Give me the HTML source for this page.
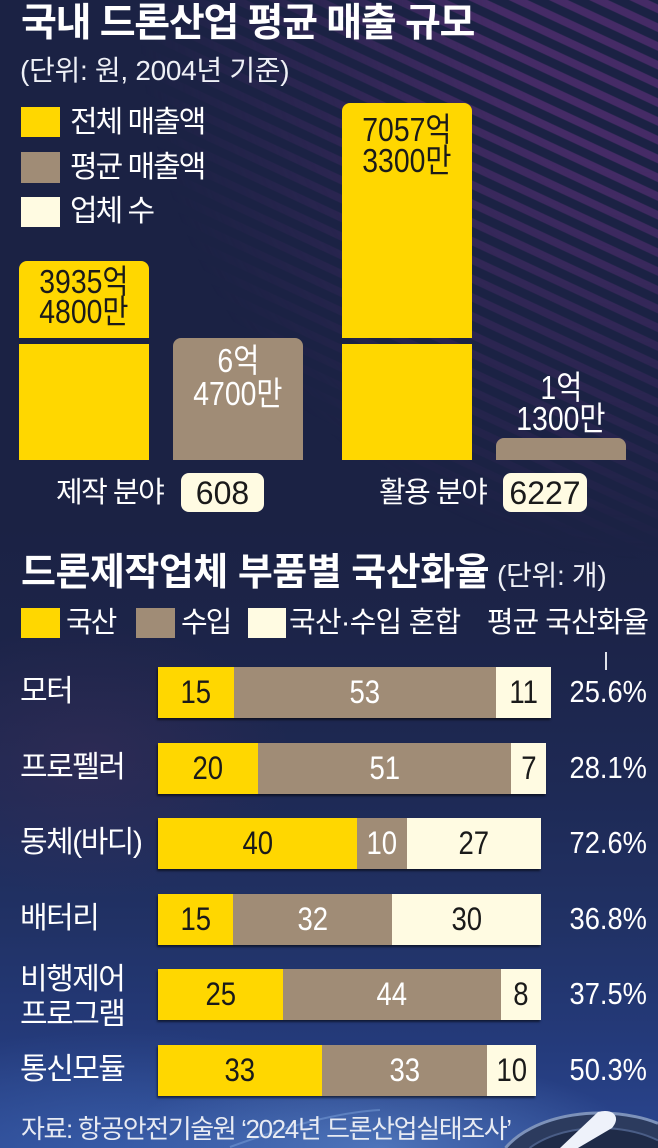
<!DOCTYPE html>
<html><head><meta charset="utf-8">
<style>
*{margin:0;padding:0;box-sizing:border-box}
html,body{width:658px;height:1148px;overflow:hidden;background:#1b2244}
body{font-family:"Liberation Sans","Noto Sans CJK KR",sans-serif;color:#fff}
#wrap{position:relative;width:658px;height:1148px;overflow:hidden}
.bg{position:absolute;left:0;top:0;width:658px;height:1148px;
 background:linear-gradient(to bottom,#1b2244 0px,#1b2244 520px,#1c2449 640px,#1e2a56 800px,#213266 930px,#243a7a 1040px,#2a4690 1148px)}
.glow1{position:absolute;left:0;top:0;width:658px;height:1148px;
 background:radial-gradient(ellipse 260px 90px at 380px 1148px,rgba(120,170,235,.45),rgba(120,170,235,0) 100%),
 radial-gradient(ellipse 200px 140px at 90px 760px,rgba(90,50,90,.25),rgba(90,50,90,0) 100%),
 radial-gradient(ellipse 300px 120px at 120px 1148px,rgba(80,130,210,.35),rgba(80,130,210,0) 100%)}
.stripes{position:absolute;left:0;top:0;width:658px;height:560px;
 background:repeating-linear-gradient(25deg,rgba(72,44,104,0) 0px,rgba(72,44,104,0) 8px,rgba(72,44,104,.95) 9px,rgba(72,44,104,.95) 16px,rgba(72,44,104,0) 17px);
 -webkit-mask-image:radial-gradient(ellipse 520px 560px at 100% 0%,#000 30%,rgba(0,0,0,.5) 60%,transparent 100%);
 mask-image:radial-gradient(ellipse 520px 560px at 100% 0%,#000 30%,rgba(0,0,0,.5) 60%,transparent 100%)}
.a{position:absolute}
.t{position:absolute;height:40px;line-height:40px;white-space:nowrap}
.n{display:inline-block;transform:scaleX(.86);transform-origin:center}
.nr{display:inline-block;transform:scaleX(.88);transform-origin:right center}
.y{background:#ffd700}
.b{background:#a08c76}
.c{background:#fffbe2}
.row{position:absolute;left:158px;height:51px;display:flex;box-shadow:-1px 2px 2px rgba(0,0,0,.55)}
.row div{height:51px;line-height:51px;text-align:center;font-size:32px;overflow:visible;white-space:nowrap}
.row .y,.row .c{color:#1a1a1a}
.row .b{color:#fff}
.lbl{font-size:30px;letter-spacing:-1.5px;left:20px}
.pct{right:11px;text-align:right;font-size:31px}
.bl{position:absolute;text-align:center;font-size:33px;height:34px;line-height:34px;white-space:nowrap}
</style></head><body>
<div id="wrap">
<div class="bg"></div>
<div class="glow1"></div>
<div class="stripes"></div>

<!-- drone shape bottom right -->
<svg class="a" style="left:0;top:0;overflow:hidden" width="658" height="1148" viewBox="0 0 658 1148">
 <path d="M505.5 1148 A105 62 0 0 1 658 1123.3 L658 1148 Z" fill="#2c3b5e"/>
 <path d="M505.5 1148 A105 62 0 0 1 658 1123.3" fill="none" stroke="#7d92ba" stroke-width="3"/>
 <path d="M529.6 1148 A88 50 0 0 1 658 1140.4 L658 1148 Z" fill="#1f2b48"/>
 <path d="M529.6 1148 A88 50 0 0 1 658 1140.4" fill="none" stroke="#4a5d86" stroke-width="2"/>
 <path d="M598 1112 C612 1108 622 1116 612 1128 L578 1148 L560 1148 Z" fill="#eef2fa"/>
 <path d="M230 1147 C290 1125 340 1112 380 1110" stroke="rgba(150,190,240,.35)" stroke-width="2" fill="none"/>
</svg>

<!-- Title 1 -->
<div class="t" style="left:21px;top:4px;font-size:39px;font-weight:700;letter-spacing:-1.3px">국내 드론산업 평균 매출 규모</div>
<div class="t" style="left:20px;top:51px;font-size:28px;letter-spacing:-0.3px;color:#eef0f6">(단위: 원, 2004년 기준)</div>

<!-- legend top -->
<div class="a y" style="left:21px;top:107px;width:39px;height:30px"></div>
<div class="a b" style="left:21px;top:152px;width:39px;height:31px"></div>
<div class="a c" style="left:21px;top:197px;width:39px;height:30px"></div>
<div class="t" style="left:70px;top:103px;font-size:30px;letter-spacing:-2px">전체 매출액</div>
<div class="t" style="left:70px;top:148px;font-size:30px;letter-spacing:-2px">평균 매출액</div>
<div class="t" style="left:70px;top:192px;font-size:30px;letter-spacing:-2px">업체 수</div>

<!-- top bars -->
<div class="a y" style="left:19px;top:261px;width:130px;height:77px;border-radius:8px 8px 0 0"></div>
<div class="a y" style="left:19px;top:344px;width:130px;height:116px"></div>
<div class="a b" style="left:173px;top:338px;width:130px;height:122px;border-radius:8px 8px 0 0"></div>
<div class="a y" style="left:342px;top:103px;width:130px;height:235px;border-radius:8px 8px 0 0"></div>
<div class="a y" style="left:342px;top:344px;width:130px;height:116px"></div>
<div class="a b" style="left:496px;top:438px;width:130px;height:22px;border-radius:8px 8px 0 0"></div>

<div class="bl" style="left:19px;width:130px;top:265px;color:#1a1a1a"><span class="n">3935억</span></div>
<div class="bl" style="left:19px;width:130px;top:295px;color:#1a1a1a"><span class="n">4800만</span></div>
<div class="bl" style="left:342px;width:130px;top:113px;color:#1a1a1a"><span class="n">7057억</span></div>
<div class="bl" style="left:342px;width:130px;top:144px;color:#1a1a1a"><span class="n">3300만</span></div>
<div class="bl" style="left:173px;width:130px;top:344px"><span class="n">6억</span></div>
<div class="bl" style="left:173px;width:130px;top:377px"><span class="n">4700만</span></div>
<div class="bl" style="left:496px;width:130px;top:371px"><span class="n">1억</span></div>
<div class="bl" style="left:496px;width:130px;top:402px"><span class="n">1300만</span></div>

<!-- category labels -->
<div class="t" style="left:56px;top:473px;font-size:29px;letter-spacing:-1.5px">제작 분야</div>
<div class="a c" style="left:181px;top:473px;width:83px;height:39px;border-radius:8px"></div>
<div class="t" style="left:181px;width:83px;top:473px;text-align:center;font-size:32px;color:#1a1a1a">608</div>
<div class="t" style="left:379px;top:473px;font-size:29px;letter-spacing:-1.5px">활용 분야</div>
<div class="a c" style="left:503px;top:473px;width:84px;height:39px;border-radius:8px"></div>
<div class="t" style="left:503px;width:84px;top:473px;text-align:center;font-size:32px;color:#1a1a1a">6227</div>

<!-- Title 2 -->
<div class="t" style="left:21px;top:553px;font-size:38px;font-weight:700;letter-spacing:-0.5px">드론제작업체 부품별 국산화율</div>
<div class="t" style="left:497px;top:556px;font-size:28px;letter-spacing:-0.3px;color:#eef0f6">(단위: 개)</div>

<!-- legend bottom -->
<div class="a y" style="left:21px;top:608px;width:39px;height:30px"></div>
<div class="t" style="left:66px;top:603px;font-size:29px;letter-spacing:-2px">국산</div>
<div class="a b" style="left:136px;top:608px;width:39px;height:30px"></div>
<div class="t" style="left:181px;top:603px;font-size:29px;letter-spacing:-2px">수입</div>
<div class="a c" style="left:248px;top:608px;width:38px;height:30px"></div>
<div class="t" style="left:289px;top:603px;font-size:29px;letter-spacing:-0.8px">국산·수입 혼합</div>
<div class="t" style="right:10px;top:603px;font-size:29px;letter-spacing:-1px;text-align:right">평균 국산화율</div>
<div class="a" style="left:605px;top:652px;width:2px;height:18px;background:#dfe2ea"></div>

<!-- rows -->
<div class="row" style="top:667px">
 <div class="y" style="width:76px"><span class="n">15</span></div>
 <div class="b" style="width:262px"><span class="n">53</span></div>
 <div class="c" style="width:55px"><span class="n">11</span></div>
</div>
<div class="t lbl" style="top:672px">모터</div>
<div class="t pct" style="top:672px"><span class="nr">25.6%</span></div>

<div class="row" style="top:743px">
 <div class="y" style="width:100px"><span class="n">20</span></div>
 <div class="b" style="width:253px"><span class="n">51</span></div>
 <div class="c" style="width:35px"><span class="n">7</span></div>
</div>
<div class="t lbl" style="top:748px">프로펠러</div>
<div class="t pct" style="top:748px"><span class="nr">28.1%</span></div>

<div class="row" style="top:818px">
 <div class="y" style="width:199px"><span class="n">40</span></div>
 <div class="b" style="width:50px"><span class="n">10</span></div>
 <div class="c" style="width:134px"><span class="n">27</span></div>
</div>
<div class="t lbl" style="top:823px">동체(바디)</div>
<div class="t pct" style="top:823px"><span class="nr">72.6%</span></div>

<div class="row" style="top:894px">
 <div class="y" style="width:75px"><span class="n">15</span></div>
 <div class="b" style="width:159px"><span class="n">32</span></div>
 <div class="c" style="width:149px"><span class="n">30</span></div>
</div>
<div class="t lbl" style="top:899px">배터리</div>
<div class="t pct" style="top:899px"><span class="nr">36.8%</span></div>

<div class="row" style="top:969px">
 <div class="y" style="width:125px"><span class="n">25</span></div>
 <div class="b" style="width:218px"><span class="n">44</span></div>
 <div class="c" style="width:40px"><span class="n">8</span></div>
</div>
<div class="t lbl" style="top:960px">비행제어</div>
<div class="t lbl" style="top:995px">프로그램</div>
<div class="t pct" style="top:974px"><span class="nr">37.5%</span></div>

<div class="row" style="top:1045px">
 <div class="y" style="width:164px"><span class="n">33</span></div>
 <div class="b" style="width:165px"><span class="n">33</span></div>
 <div class="c" style="width:49px"><span class="n">10</span></div>
</div>
<div class="t lbl" style="top:1050px">통신모듈</div>
<div class="t pct" style="top:1050px"><span class="nr">50.3%</span></div>

<!-- footer -->
<div class="t" style="left:21px;top:1110px;height:38px;line-height:38px;font-size:26px;letter-spacing:-1.4px;color:#e8ebf3">자료: 항공안전기술원 ‘2024년 드론산업실태조사’</div>
</div>
</body></html>
